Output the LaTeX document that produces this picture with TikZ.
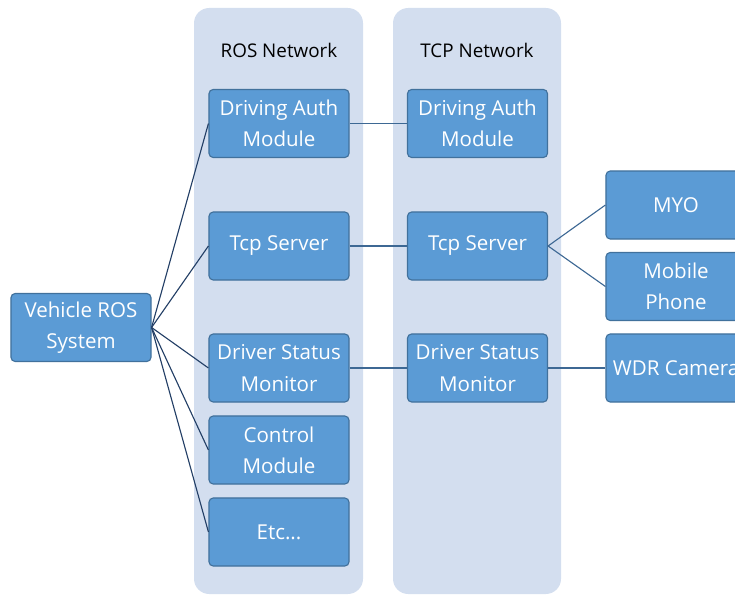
\documentclass[tikz,border=0pt]{standalone}
\usepackage{fontspec}
\setmainfont{Open Sans}
\definecolor{lanefill}{HTML}{D3DEEF}
\definecolor{boxfill}{HTML}{5B9BD5}
\definecolor{boxedge}{HTML}{41719C}
\definecolor{fanwire}{HTML}{233F66}
\definecolor{busline}{HTML}{3D6894}

\begin{document}
\begin{tikzpicture}[x=0.025cm, y=-0.025cm,
  lane/.style={fill=lanefill, rounded corners=0.38cm},
  lanetitle/.style={font=\fontsize{13.4}{16}\selectfont},
  box/.style={draw=boxedge, fill=boxfill, text=white, rounded corners=3pt,
    line width=0.8pt, minimum width=3.5cm, minimum height=1.7cm,
    inner sep=0pt, align=center, font=\fontsize{14.6}{22.3}\selectfont},
  fan/.style={draw=fanwire, line width=0.8pt},
  bus/.style={draw=busline, line width=0.8pt}]
  \clip (0,0) rectangle (735,596);

  % the two network lanes
  \fill[lane] (194,8) rectangle (363,594);
  \fill[lane] (393,8) rectangle (561,594);
  \node[lanetitle] (rostitle) at (279,50) {ROS Network};
  \node[lanetitle] (tcptitle) at (477,50) {TCP Network};

  % vehicle side
  \node[box] (vehicle) at (81,327.5) {Vehicle ROS\\System};

  % ROS network modules
  \node[box] (rosauth) at (279,123.5) {Driving Auth\\Module};
  \node[box] (rostcp)  at (279,246)   {Tcp Server};
  \node[box] (rosdsm)  at (279,368)   {Driver Status\\Monitor};
  \node[box] (rosctrl) at (279,450)   {Control\\Module};
  \node[box] (rosetc)  at (279,532)   {Etc...};

  % TCP network modules
  \node[box] (tcpauth) at (477.5,123.5) {Driving Auth\\Module};
  \node[box] (tcptcp)  at (477.5,246)   {Tcp Server};
  \node[box] (tcpdsm)  at (477.5,368)   {Driver Status\\Monitor};

  % devices
  \node[box] (myo)    at (676,205)   {MYO};
  \node[box] (phone)  at (676,286.5) {Mobile\\Phone};
  \node[box] (camera) at (676,368)   {WDR Camera};

  % fan out from the vehicle
  \foreach \m in {rosauth, rostcp, rosdsm, rosctrl, rosetc}
    \draw[fan] (vehicle.east) -- (\m.west);

  % ROS <-> TCP
  \draw[bus] (rosauth) -- (tcpauth);
  \draw[bus] (rostcp) -- (tcptcp);
  \draw[bus] (rosdsm) -- (tcpdsm);

  % TCP <-> devices
  \draw[bus] (tcptcp.east) -- (myo.west);
  \draw[bus] (tcptcp.east) -- (phone.west);
  \draw[bus] (tcpdsm) -- (camera);
\end{tikzpicture}
\end{document}
